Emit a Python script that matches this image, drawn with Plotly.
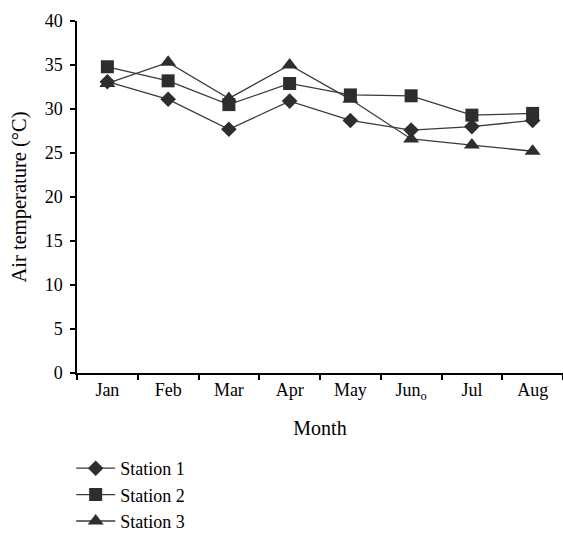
import plotly.graph_objects as go

months = ["Jan", "Feb", "Mar", "Apr", "May", "Jun", "Jul", "Aug"]
month_labels = ["Jan", "Feb", "Mar", "Apr", "May", "Jun<sub>o</sub>", "Jul", "Aug"]
station1 = [33.1, 31.1, 27.7, 30.9, 28.7, 27.6, 28.0, 28.7]
station2 = [34.8, 33.2, 30.5, 32.9, 31.6, 31.5, 29.3, 29.5]
station3 = [32.9, 35.3, 31.2, 35.0, 31.1, 26.6, 25.9, 25.2]

names = ["Station 1", "Station 2", "Station 3"]
symbols = ["diamond", "square", "triangle-up"]
sizes = [12, 13, 14]
series = [station1, station2, station3]

FONT = "Liberation Serif"
fig = go.Figure()
for name, sym, sz, vals in zip(names, symbols, sizes, series):
    fig.add_trace(go.Scatter(
        x=months, y=vals, name=name, mode="lines+markers",
        line=dict(color="#3a3a3a", width=1.3),
        marker=dict(symbol=sym, size=sz, color="#2e2e2e"),
    ))

fig.update_layout(
    width=563, height=540,
    margin=dict(l=77, r=0, t=21, b=155),
    paper_bgcolor="white", plot_bgcolor="white",
    font=dict(family=FONT, size=18, color="black"),
    showlegend=True,
    legend=dict(x=-0.012, y=-0.22, xanchor="left", yanchor="top",
                font=dict(family=FONT, size=18, color="black"),
                tracegroupgap=0, itemwidth=39, bgcolor="rgba(0,0,0,0)"),
    xaxis=dict(
        type="category", categoryorder="array", categoryarray=months,
        tickmode="array", tickvals=months, ticktext=month_labels,
        range=[-0.5, 7.5], tickson="boundaries",
        ticks="outside", ticklen=5, tickwidth=1.5, tickcolor="black",
        showline=True, linecolor="black", linewidth=1.5,
        showgrid=False, zeroline=False,
        tickfont=dict(family=FONT, size=18, color="black"),
        title=dict(text="Month", font=dict(family=FONT, size=20, color="black"), standoff=19),
    ),
    yaxis=dict(
        range=[0, 40], dtick=5, tick0=0,
        ticks="outside", ticklen=5, tickwidth=1.5, tickcolor="black",
        showline=True, linecolor="black", linewidth=1.5,
        showgrid=False, zeroline=False,
        tickfont=dict(family=FONT, size=18, color="black"),
        ticklabelstandoff=4,
        title=dict(text="Air temperature (°C)", font=dict(family=FONT, size=20.5, color="black"), standoff=12),
    ),
)

fig.write_html("out.html")
